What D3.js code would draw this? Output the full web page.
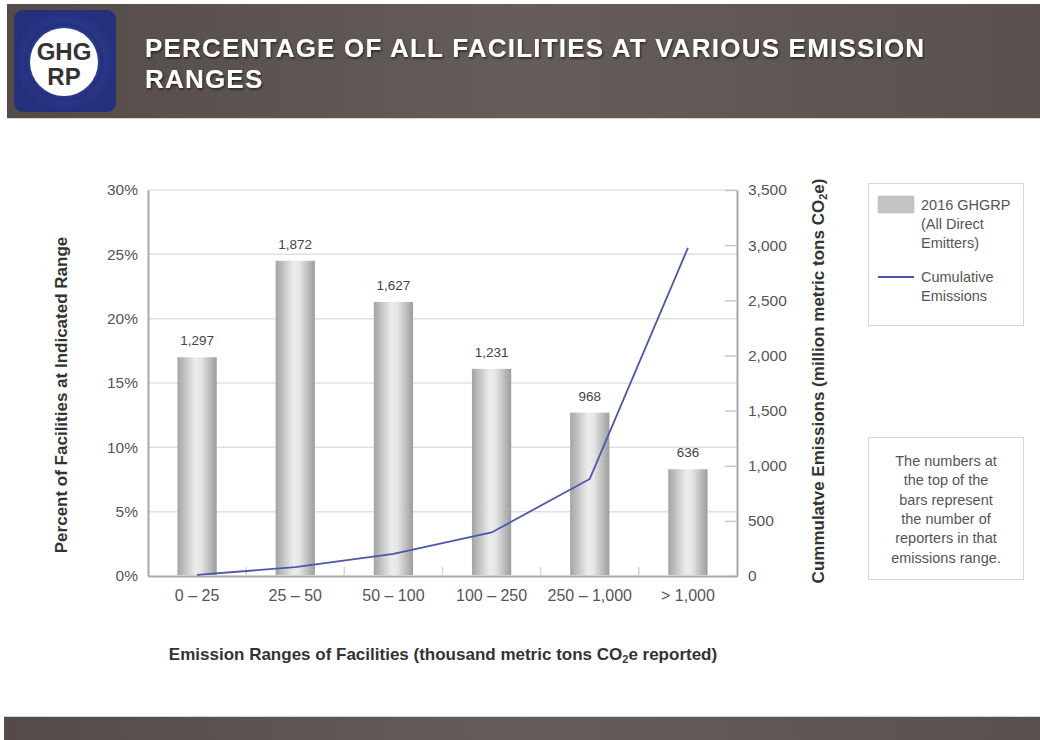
<!DOCTYPE html>
<html>
<head>
<meta charset="utf-8">
<script src="https://cdn.jsdelivr.net/npm/d3@7"></script>
<style>
  body { margin: 0; background: #fff; }
  svg { display: block; font-family: "Liberation Sans", Arial, sans-serif; }
</style>
</head>
<body>
<script>
// emission ranges (thousand metric tons CO2e)
var categories = ["0 \u2013 25", "25 \u2013 50", "50 \u2013 100", "100 \u2013 250", "250 \u2013 1,000", "> 1,000"];
var percentValues = [17.0, 24.5, 21.3, 16.1, 12.7, 8.3];       // % of facilities
var reporterCounts = [1297, 1872, 1627, 1231, 968, 636];       // labels above bars
var cumulativeEmissions = [10, 80, 200, 395, 880, 2975];       // million metric tons
var percentTicks = [0, 5, 10, 15, 20, 25, 30];
var emissionTicks = [0, 500, 1000, 1500, 2000, 2500, 3000, 3500];

var width = 1040, height = 740;
var plot = {left: 148, right: 737, top: 190, bottom: 576};

var svg = d3.select("body").append("svg")
    .attr("width", width)
    .attr("height", height);

var defs = svg.append("defs");

// cylinder-like gradient for bars
var barGrad = defs.append("linearGradient").attr("id", "barGrad")
    .attr("x1", "0%").attr("x2", "100%").attr("y1", "0%").attr("y2", "0%");
barGrad.append("stop").attr("offset", "0%").attr("stop-color", "#a4a4a4");
barGrad.append("stop").attr("offset", "45%").attr("stop-color", "#ececec");
barGrad.append("stop").attr("offset", "60%").attr("stop-color", "#e6e6e6");
barGrad.append("stop").attr("offset", "100%").attr("stop-color", "#9c9c9c");

var bandGrad = defs.append("linearGradient").attr("id", "bandGrad")
    .attr("x1", "0%").attr("x2", "100%");
bandGrad.append("stop").attr("offset", "0%").attr("stop-color", "#544a48");
bandGrad.append("stop").attr("offset", "50%").attr("stop-color", "#665c5a");
bandGrad.append("stop").attr("offset", "100%").attr("stop-color", "#5a504e");

var logoGrad = defs.append("radialGradient").attr("id", "logoGrad");
logoGrad.append("stop").attr("offset", "0%").attr("stop-color", "#3e4fb0");
logoGrad.append("stop").attr("offset", "100%").attr("stop-color", "#24307c");

var shadow = defs.append("filter").attr("id", "shadow");
shadow.append("feDropShadow").attr("dx", 1).attr("dy", 1.5).attr("stdDeviation", 1)
    .attr("flood-color", "#000").attr("flood-opacity", 0.6);

// ---- header band ----
svg.append("rect").attr("x", 7).attr("y", 4).attr("width", width - 7).attr("height", 114)
    .attr("fill", "url(#bandGrad)");
svg.append("line").attr("x1", 7).attr("x2", width).attr("y1", 118.5).attr("y2", 118.5)
    .attr("stroke", "#d8d4cf").attr("stroke-width", 1);

svg.append("rect").attr("x", 14).attr("y", 10).attr("width", 102).attr("height", 102)
    .attr("rx", 9).attr("fill", "url(#logoGrad)");
svg.append("circle").attr("cx", 64).attr("cy", 62).attr("r", 38)
    .attr("fill", "none").attr("stroke", "#26327f").attr("stroke-width", 4);
svg.append("circle").attr("cx", 64).attr("cy", 62).attr("r", 34).attr("fill", "#fff");
svg.append("text").attr("x", 64).attr("y", 60).attr("text-anchor", "middle")
    .style("font-size", "24px").style("font-weight", "bold").attr("fill", "#333")
    .text("GHG");
svg.append("text").attr("x", 64).attr("y", 85).attr("text-anchor", "middle")
    .style("font-size", "24px").style("font-weight", "bold").attr("fill", "#333")
    .text("RP");

var title = svg.append("text").attr("x", 145).attr("fill", "#fff")
    .style("font-size", "26px").style("font-weight", "bold")
    .style("letter-spacing", "1.2px")
    .attr("filter", "url(#shadow)");
title.append("tspan").attr("x", 145).attr("y", 57).text("PERCENTAGE OF ALL FACILITIES AT VARIOUS EMISSION");
title.append("tspan").attr("x", 145).attr("y", 88).text("RANGES");

// ---- footer band ----
svg.append("rect").attr("x", 4).attr("y", 717).attr("width", width - 4).attr("height", 23)
    .attr("fill", "url(#bandGrad)");
svg.append("line").attr("x1", 4).attr("x2", width).attr("y1", 716.5).attr("y2", 716.5)
    .attr("stroke", "#d8d4cf");

// ---- scales ----
var x = d3.scaleBand()
    .domain(categories)
    .range([plot.left, plot.right])
    .paddingInner(0.6)
    .paddingOuter(0.3);

var yLeft = d3.scaleLinear().domain([0, 30]).range([plot.bottom, plot.top]);
var yRight = d3.scaleLinear().domain([0, 3500]).range([plot.bottom, plot.top]);

// gridlines
svg.append("g")
    .selectAll("line")
    .data(percentTicks.slice(1))
    .enter().append("line")
    .attr("x1", plot.left).attr("x2", plot.right)
    .attr("y1", function(d) { return yLeft(d); })
    .attr("y2", function(d) { return yLeft(d); })
    .attr("stroke", "#e0e0e0").attr("stroke-width", 1.5);

// left axis
var leftAxis = svg.append("g")
    .attr("transform", "translate(" + plot.left + ",0)")
    .call(d3.axisLeft(yLeft).tickValues(percentTicks).tickSize(0).tickPadding(10)
        .tickFormat(function(d) { return d + "%"; }));
leftAxis.select(".domain").attr("stroke", "#a8a8a8").attr("stroke-width", 2);
leftAxis.selectAll("text").style("font-size", "15.5px").attr("fill", "#555")
    .style("font-family", "'Liberation Sans', Arial, sans-serif");

// right axis
var rightAxis = svg.append("g")
    .attr("transform", "translate(" + plot.right + ",0)")
    .call(d3.axisRight(yRight).tickValues(emissionTicks).tickSize(0).tickPadding(11)
        .tickFormat(d3.format(",")));
rightAxis.select(".domain").attr("stroke", "#a8a8a8").attr("stroke-width", 2);
rightAxis.selectAll("text").style("font-size", "15.5px").attr("fill", "#555")
    .style("font-family", "'Liberation Sans', Arial, sans-serif");
rightAxis.selectAll(".tick").append("line")
    .attr("x1", -12).attr("x2", 0).attr("stroke", "#c8c8c8").attr("stroke-width", 1.5);

// bottom axis
var bottomAxis = svg.append("g")
    .attr("transform", "translate(0," + plot.bottom + ")")
    .call(d3.axisBottom(x).tickSize(0).tickPadding(14));
bottomAxis.select(".domain").attr("stroke", "#a8a8a8").attr("stroke-width", 2);
bottomAxis.selectAll("text").style("font-size", "16px").attr("fill", "#555")
    .style("font-family", "'Liberation Sans', Arial, sans-serif");

// small boundary ticks between categories
svg.append("g")
    .selectAll("line")
    .data(categories.slice(1))
    .enter().append("line")
    .attr("x1", function(d) { return x(d) - x.step() * x.paddingInner() / 2; })
    .attr("x2", function(d) { return x(d) - x.step() * x.paddingInner() / 2; })
    .attr("y1", plot.bottom - 9).attr("y2", plot.bottom)
    .attr("stroke", "#d4d4d4").attr("stroke-width", 1.5);

// bars
svg.append("g")
    .selectAll("rect")
    .data(percentValues)
    .enter().append("rect")
    .attr("x", function(d, i) { return x(categories[i]); })
    .attr("y", function(d) { return yLeft(d); })
    .attr("width", x.bandwidth())
    .attr("height", function(d) { return plot.bottom - 1 - yLeft(d); })
    .attr("fill", "url(#barGrad)");

// reporter counts above bars
svg.append("g")
    .selectAll("text")
    .data(reporterCounts)
    .enter().append("text")
    .attr("x", function(d, i) { return x(categories[i]) + x.bandwidth() / 2; })
    .attr("y", function(d, i) { return yLeft(percentValues[i]) - 12; })
    .attr("text-anchor", "middle")
    .style("font-size", "13.5px").attr("fill", "#444")
    .text(d3.format(","));

// cumulative emissions line
var line = d3.line()
    .x(function(d, i) { return x(categories[i]) + x.bandwidth() / 2; })
    .y(function(d) { return yRight(d); });
svg.append("path")
    .datum(cumulativeEmissions)
    .attr("d", line)
    .attr("fill", "none")
    .attr("stroke", "#4d57a8")
    .attr("stroke-width", 1.8);

// axis titles
svg.append("text")
    .attr("transform", "translate(67," + ((plot.top + plot.bottom) / 2 + 12) + ") rotate(-90)")
    .attr("text-anchor", "middle")
    .style("font-size", "17px").style("font-weight", "bold").attr("fill", "#333")
    .text("Percent of Facilities at Indicated Range");

var rTitle = svg.append("text")
    .attr("transform", "translate(824," + ((plot.top + plot.bottom) / 2 - 2) + ") rotate(-90)")
    .attr("text-anchor", "middle")
    .style("font-size", "17px").style("font-weight", "bold").attr("fill", "#333");
rTitle.append("tspan").text("Cummulatve Emissions (million metric tons CO");
rTitle.append("tspan").attr("dy", 3).style("font-size", "11px").text("2");
rTitle.append("tspan").attr("dy", -3).text("e)");

var xTitle = svg.append("text")
    .attr("x", 443).attr("y", 660)
    .attr("text-anchor", "middle")
    .style("font-size", "17px").style("font-weight", "bold").attr("fill", "#333");
xTitle.append("tspan").text("Emission Ranges of Facilities (thousand metric tons CO");
xTitle.append("tspan").attr("dy", 3).style("font-size", "11px").text("2");
xTitle.append("tspan").attr("dy", -3).text("e reported)");

// legend box
var legend = svg.append("g");
legend.append("rect").attr("x", 868.5).attr("y", 183.5).attr("width", 155).attr("height", 142)
    .attr("fill", "#fff").attr("stroke", "#d6d6d6");
legend.append("rect").attr("x", 878).attr("y", 196).attr("width", 36).attr("height", 17)
    .attr("fill", "#c4c4c4").attr("stroke", "#b8b8b8").attr("stroke-width", 0.5);
legend.append("line").attr("x1", 878).attr("x2", 914).attr("y1", 277).attr("y2", 277)
    .attr("stroke", "#4d57a8").attr("stroke-width", 1.8);
var legendLines = [["2016 GHGRP", 210], ["(All Direct", 229], ["Emitters)", 248], ["Cumulative", 282], ["Emissions", 301]];
legend.selectAll("text.lg")
    .data(legendLines)
    .enter().append("text")
    .attr("class", "lg")
    .attr("x", 921)
    .attr("y", function(d) { return d[1]; })
    .style("font-size", "14.5px").attr("fill", "#555")
    .text(function(d) { return d[0]; });

// note box
var note = svg.append("g");
note.append("rect").attr("x", 868.5).attr("y", 437.5).attr("width", 155).attr("height", 142)
    .attr("fill", "#fff").attr("stroke", "#d6d6d6");
var noteLines = ["The numbers at", "the top of the", "bars represent", "the number of", "reporters in that", "emissions range."];
note.selectAll("text")
    .data(noteLines)
    .enter().append("text")
    .attr("x", 946)
    .attr("y", function(d, i) { return 466 + i * 19.3; })
    .attr("text-anchor", "middle")
    .style("font-size", "14.5px").attr("fill", "#555")
    .text(function(d) { return d; });
</script>
</body>
</html>
